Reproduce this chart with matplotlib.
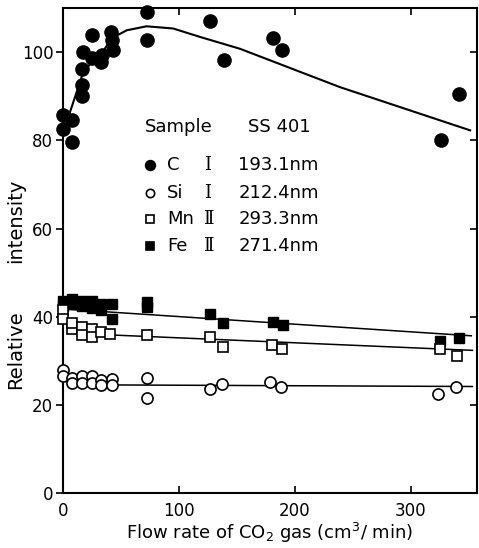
import matplotlib
matplotlib.use('Agg')
import matplotlib.pyplot as plt

plt.rcParams['font.family'] = 'DejaVu Sans'

# C I 193.1 nm (filled circles)
c_x = [0, 0, 7.5, 7.5, 16, 16, 16, 17, 24.7, 24.7, 33, 34, 41.4, 42, 43.4,
       72, 72, 127, 139, 181, 188.5, 325.6, 341]
c_y = [85.7, 82.7, 84.7, 79.7, 90.2, 92.5, 96.3, 100.1, 103.9, 98.6, 97.8, 99.3,
       104.6, 102.7, 100.5, 102.7, 109.1, 107.1, 98.3, 103.3, 100.5, 80.2, 90.5]
c_fit_x = [4.6, 13.2, 17.5, 24, 32, 42, 55, 72, 95, 118, 152.6, 238.8, 351]
c_fit_y = [85.3, 92.1, 95.5, 97.5, 99.2, 103.2, 105.0, 105.9, 105.4, 103.5, 100.8, 92.1, 82.3]

# Fe II 271.4 nm (filled squares)
fe_x = [0, 0, 7.5, 7.5, 16, 16, 24.7, 24.7, 33, 33, 42, 42, 72, 72,
        126.7, 138, 180.7, 190, 325, 341]
fe_y = [43.5, 42.5, 44, 43, 43.5, 42.5, 43.5, 42, 43, 41.5, 43, 39.6, 42.3, 43.3,
        40.7, 38.5, 38.9, 38.2, 34.5, 35.3]
fe_fit_x = [5, 352]
fe_fit_y = [41.7, 35.7]

# Mn II 293.3 nm (open squares)
mn_x = [0, 0, 7.5, 7.5, 16, 16, 24.7, 24.7, 33, 40.5, 72, 126.7, 138, 180, 188.5, 325, 340]
mn_y = [41.5, 39.6, 37.3, 38.5, 37.7, 35.8, 37.3, 35.4, 36.6, 36.2, 35.8, 35.4, 33.2,
        33.6, 32.8, 32.8, 31.1]
mn_fit_x = [5, 353]
mn_fit_y = [36.3, 32.4]

# Si I 212.4 nm (open circles)
si_x = [0, 0, 7.5, 7.5, 16, 16, 24.7, 24.7, 33, 33, 42, 42, 72, 72,
        126.7, 136.8, 178.4, 187.6, 323.5, 338.8]
si_y = [27.9, 26.5, 26.2, 24.9, 26.5, 24.9, 26.5, 24.9, 25.6, 24.5, 26.0, 24.5, 26.2, 21.5,
        23.7, 24.7, 25.2, 24.0, 22.4, 24.0]
si_fit_x = [5, 353]
si_fit_y = [24.6, 24.2]

x_ticks = [0, 100, 200, 300]
y_ticks = [0, 20, 40, 60, 80, 100]

fig = plt.figure(figsize=(4.79, 5.48), dpi=100)
ax = fig.add_axes([0.1315, 0.100, 0.8645, 0.885])

# fitted lines
ax.plot(c_fit_x, c_fit_y, color='black', lw=1.5, zorder=2)
ax.plot(fe_fit_x, fe_fit_y, color='black', lw=1.1, zorder=2)
ax.plot(mn_fit_x, mn_fit_y, color='black', lw=1.1, zorder=2)
ax.plot(si_fit_x, si_fit_y, color='black', lw=1.1, zorder=2)

# points
ax.plot(c_x, c_y, 'o', color='black', ms=9.5, clip_on=False, zorder=3)
ax.plot(fe_x, fe_y, 's', color='black', ms=7.5, clip_on=False, zorder=3)
ax.plot(mn_x, mn_y, 's', mfc='white', mec='black', mew=1.2, ms=7.5, clip_on=False, zorder=4)
ax.plot(si_x, si_y, 'o', mfc='white', mec='black', mew=1.2, ms=8, clip_on=False, zorder=4)

ax.set_xlim(0, 357)
ax.set_ylim(0, 110)
ax.set_xticks(x_ticks)
ax.set_yticks(y_ticks)
ax.tick_params(axis='x', direction='in', top=True, length=5, width=1.2, labelsize=12, pad=6)
ax.tick_params(axis='y', direction='out', length=5, width=1.2, labelsize=12, pad=2)
# right side ticks point inwards
ax.tick_params(axis='y', which='both', right=True)
for t in ax.yaxis.get_major_ticks():
    t.tick2line.set_marker(matplotlib.lines.TICKLEFT)
for s in ax.spines.values():
    s.set_linewidth(1.5)

ax.set_xlabel(r'Flow rate of CO$_2$ gas (cm$^3$/ min)', fontsize=13, labelpad=1)
fig.text(0.032, 1 - 350 / 548, 'Relative', rotation=90, fontsize=14,
         ha='center', va='center')
fig.text(0.032, 1 - 221 / 548, 'intensity', rotation=90, fontsize=14,
         ha='center', va='center')

# legend block
tr = ax.transAxes
ax.text(0.198, 0.755, 'Sample', transform=tr, fontsize=13, va='center')
ax.text(0.447, 0.755, 'SS 401', transform=tr, fontsize=13, va='center')
rows = [
    ('o', 'black', 'C', 'Ⅰ', '193.1nm'),
    ('o', 'white', 'Si', 'Ⅰ', '212.4nm'),
    ('s', 'white', 'Mn', 'Ⅱ', '293.3nm'),
    ('s', 'black', 'Fe', 'Ⅱ', '271.4nm'),
]
row_y = [0.676, 0.619, 0.565, 0.509]
for (mk, fc, el, num, wl), yy in zip(rows, row_y):
    ax.plot([0.210], [yy], mk, mfc=fc, mec='black', mew=1.2,
            ms=7 if fc == 'black' and mk == 'o' else 6, transform=tr)
    ax.text(0.252, yy, el, transform=tr, fontsize=13, va='center')
    ax.text(0.350, yy, num, transform=tr, fontsize=13, va='center', ha='center',
            family='DejaVu Serif')
    ax.text(0.423, yy, wl, transform=tr, fontsize=13, va='center')

fig.savefig('out.png', dpi=100)
